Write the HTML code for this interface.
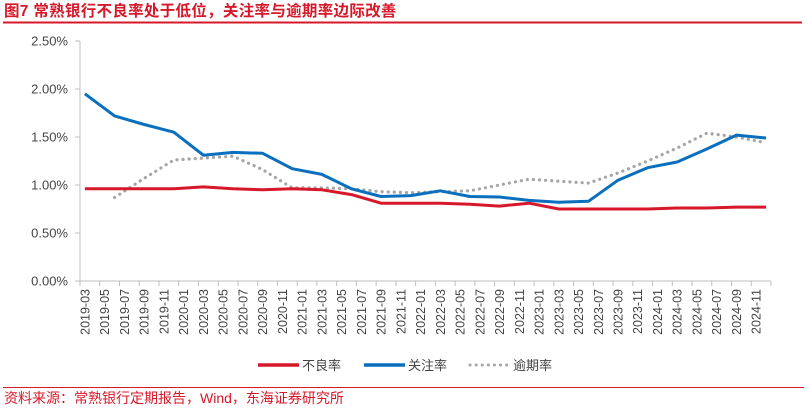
<!DOCTYPE html>
<html><head><meta charset="utf-8"><style>
body{margin:0;background:#fff;width:807px;height:412px;overflow:hidden;font-family:"Liberation Sans","Noto Sans CJK SC",sans-serif}
svg{display:block}
</style></head><body>
<svg width="807" height="412">
<text x="4" y="16" font-size="15.5" font-weight="bold" fill="#d7182a" letter-spacing="0.3" font-family="Liberation Sans, Noto Sans CJK SC, sans-serif">图7  常熟银行不良率处于低位，关注率与逾期率边际改善</text>
<line x1="3" y1="22.5" x2="802" y2="22.5" stroke="#d7182a" stroke-width="2"/>
<g id="yaxis"></g>
<g id="xaxis"></g>
<g id="series"></g>
<g font-size="13" fill="#444">
<g><line x1="258" y1="365" x2="299" y2="365" stroke="#d7182a" stroke-width="3.5"/><text x="302" y="370">不良率</text></g>
<g><line x1="364" y1="365" x2="405" y2="365" stroke="#0a6fbd" stroke-width="3.5"/><text x="408" y="370">关注率</text></g>
<g><line x1="470" y1="365" x2="510" y2="365" stroke="#a6a6a6" stroke-width="3" stroke-dasharray="0.1 6" stroke-linecap="round"/><text x="513" y="370">逾期率</text></g>
</g>
<line x1="3" y1="387.5" x2="804" y2="387.5" stroke="#d7182a" stroke-width="1"/>
<text x="4" y="403" font-size="14" fill="#d7182a">资料来源：常熟银行定期报告，Wind，东海证券研究所</text>
</svg>
<script>
const quarters=["2019-03","2019-06","2019-09","2019-12","2020-03","2020-06","2020-09","2020-12","2021-03","2021-06","2021-09","2021-12","2022-03","2022-06","2022-09","2022-12","2023-03","2023-06","2023-09","2023-12","2024-03","2024-06","2024-09","2024-12"];
const nplRate=[0.96,0.96,0.96,0.96,0.98,0.96,0.95,0.96,0.95,0.90,0.81,0.81,0.81,0.80,0.78,0.81,0.75,0.75,0.75,0.75,0.76,0.76,0.77,0.77];
const attentionRate=[1.95,1.72,1.63,1.55,1.31,1.34,1.33,1.17,1.11,0.96,0.88,0.89,0.94,0.88,0.875,0.84,0.82,0.83,1.05,1.18,1.24,1.375,1.52,1.49];
const overdueRate=[null,0.87,1.07,1.26,1.28,1.30,1.16,0.97,0.97,0.96,0.93,0.92,0.93,0.94,1.0,1.06,1.04,1.02,1.125,1.25,1.385,1.54,1.50,1.44];
const yTicks=[0,0.5,1.0,1.5,2.0,2.5];
const yTickLabels=["0.00%","0.50%","1.00%","1.50%","2.00%","2.50%"];
const NS="http://www.w3.org/2000/svg";
const X0=80,X1=771,Y0=281,Y1=41,NCAT=70,START_YEAR=2019,START_MONTH=3;
const catW=(X1-X0)/NCAT;
function monthIndex(s){const [y,m]=s.split("-").map(Number);return (y-START_YEAR)*12+(m-START_MONTH);}
function xPos(i){return X0+(i+0.5)*catW;}
function yPos(v){return Y0-(v/2.5)*(Y0-Y1);}
function mk(tag,attrs,parent){const e=document.createElementNS(NS,tag);for(const k in attrs)e.setAttribute(k,attrs[k]);parent.appendChild(e);return e;}
const ya=document.getElementById("yaxis"),xa=document.getElementById("xaxis"),sg=document.getElementById("series");
let l=mk("line",{x1:X0,y1:Y1,x2:X0,y2:Y0,stroke:"#bfbfbf","stroke-width":1},ya);


yTicks.forEach((v,i)=>{
  const t=mk("line",{x1:X0-5,y1:yPos(v),x2:X0,y2:yPos(v),stroke:"#bfbfbf"},ya);
  
  
  const tx=mk("text",{x:X0-12,y:yPos(v)+4.5,"text-anchor":"end","font-size":"13",fill:"#444"},ya);
  tx.textContent=yTickLabels[i];
  
  
});
l=mk("line",{x1:X0,y1:Y0,x2:X1,y2:Y0,stroke:"#bfbfbf","stroke-width":1},xa);


for(let k=0;k<=NCAT;k+=2){
  const t=mk("line",{x1:X0+k*catW,y1:Y0,x2:X0+k*catW,y2:Y0+5,stroke:"#bfbfbf"},xa);
  
  
}
for(let k=0;k<NCAT;k+=2){
  const y=START_YEAR+Math.floor((START_MONTH-1+k)/12),m=(START_MONTH-1+k)%12+1;
  const lab=y+"-"+String(m).padStart(2,"0");
  const x=xPos(k)+4.5;
  const tx=mk("text",{x:x,y:Y0+8,"text-anchor":"end","font-size":"12.5",fill:"#444",transform:`rotate(-90 ${x} ${Y0+8})`},xa);
  tx.textContent=lab;
  
  
}
function path(vals){let d="",pen=false;vals.forEach((v,i)=>{if(v==null){pen=false;return;}const x=xPos(monthIndex(quarters[i])),y=yPos(v);d+=(pen?"L":"M")+x.toFixed(1)+" "+y.toFixed(1);pen=true;});return d;}
let p=mk("path",{d:path(overdueRate),fill:"none",stroke:"#a6a6a6","stroke-width":3.2,"stroke-dasharray":"0.1 6","stroke-linecap":"round"},sg);


p=mk("path",{d:path(nplRate),fill:"none",stroke:"#d7182a","stroke-width":3,"stroke-linejoin":"round"},sg);


p=mk("path",{d:path(attentionRate),fill:"none",stroke:"#0a6fbd","stroke-width":3,"stroke-linejoin":"round"},sg);


</script>
</body></html>
